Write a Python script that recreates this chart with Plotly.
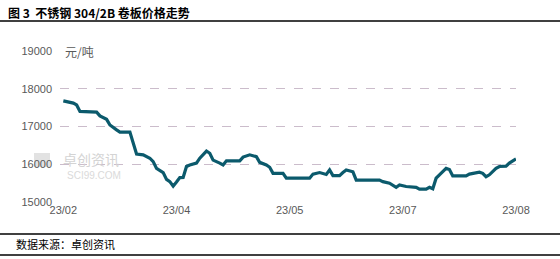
import plotly.graph_objects as go

# day index (position along the category axis) and price (元/吨)
day = [0, 3, 4, 5, 10, 11, 13, 14, 16, 17, 20, 21, 22, 24, 26, 27, 28, 30, 31, 32, 33,
       34, 35, 36, 37, 38, 40, 41, 43, 44, 45, 47, 48, 49, 53, 54, 55, 56, 58, 59, 61,
       62, 63, 66, 67, 74, 75, 77, 79, 80, 81, 83, 84, 85, 87, 88, 95, 96, 98, 100, 101,
       103, 106, 107, 109, 110, 111, 112, 113, 115, 116, 117, 121, 122, 125, 126, 127, 128,
       130, 131, 133, 134, 136]
price = [17680, 17620, 17570, 17400, 17380, 17280, 17190, 17040, 16910, 16850, 16850, 16560,
         16270, 16250, 16160, 16070, 15890, 15780, 15600, 15540, 15420,
         15530, 15645, 15650, 15940, 15980, 16030, 16160, 16350, 16290, 16110, 16030, 15980,
         16090, 16090, 16190, 16220, 16250, 16200, 16050, 15980,
         15920, 15760, 15760, 15630, 15630, 15740, 15780, 15730, 15850, 15700, 15700, 15780,
         15850, 15800, 15580, 15580, 15540, 15500, 15390, 15450,
         15410, 15390, 15340, 15340, 15390, 15350, 15630, 15720, 15890, 15860, 15690, 15690,
         15740, 15790, 15760, 15670, 15720,
         15890, 15940, 15950, 16030, 16140]

tick_pos = [0, 34, 68, 102, 136]
tick_text = ["23/02", "23/04", "23/05", "23/07", "23/08"]
y_ticks = [15000, 16000, 17000, 18000, 19000]

title_text = "图 3  不锈钢 304/2B 卷板价格走势"
unit_text = "元/吨"
source_text = "数据来源：卓创资讯"

W, H = 560, 259
ml, mr, mt, mb = 60, 44, 51, 57
pw, ph = W - ml - mr, H - mt - mb


def px(xp):
    return (xp - ml) / pw


def py(yp):
    return (H - mb - yp) / ph


fig = go.Figure()
fig.add_trace(go.Scatter(x=day, y=price, mode="lines",
                         line=dict(color="#0b5a6c", width=3.2),
                         hoverinfo="skip", showlegend=False))

fig.update_layout(
    width=W, height=H,
    margin=dict(l=ml, r=mr, t=mt, b=mb, pad=0),
    paper_bgcolor="white", plot_bgcolor="white",
    font=dict(family="Liberation Sans, Arial, sans-serif", size=11, color="#595959"),
    xaxis=dict(range=[-1, 136], tickmode="array", tickvals=tick_pos, ticktext=tick_text,
               showgrid=False, zeroline=False, showline=False, ticks="",
               tickfont=dict(size=11, color="#595959")),
    yaxis=dict(range=[15000, 19000], tickmode="array", tickvals=y_ticks,
               ticktext=[str(v) for v in y_ticks],
               showgrid=True, gridcolor="#cbbccb", griddash="dash", gridwidth=1,
               zeroline=False, showline=False, ticks="", ticklabelstandoff=7,
               tickfont=dict(size=11, color="#595959")),
)

shapes = []
for yp in (21, 234, 255):
    shapes.append(dict(type="line", xref="paper", yref="paper",
                       x0=px(0), x1=px(W), y0=py(yp), y1=py(yp),
                       line=dict(color="black", width=1.6)))
# watermark logo block
shapes.append(dict(type="rect", xref="paper", yref="paper",
                   x0=px(34), x1=px(50), y0=py(167), y1=py(153),
                   fillcolor="#e2e2e2", line=dict(width=0), layer="below"))
fig.update_layout(shapes=shapes)

annotations = [
    dict(text="<b>" + title_text + "</b>", x=px(6), y=py(12), xref="paper", yref="paper",
         xanchor="left", yanchor="middle", showarrow=False,
         font=dict(family="Noto Sans CJK SC", size=12, color="black")),
    dict(text=source_text, x=px(14), y=py(244), xref="paper", yref="paper",
         xanchor="left", yanchor="middle", showarrow=False,
         font=dict(family="Noto Sans CJK SC", size=11, color="black")),
    dict(text=unit_text, x=px(63), y=py(51), xref="paper", yref="paper",
         xanchor="left", yanchor="middle", showarrow=False, bgcolor="white",
         font=dict(family="Noto Sans CJK SC", size=12, color="#595959")),
    dict(text="卓创资讯", x=px(91), y=py(159), xref="paper", yref="paper",
         xanchor="center", yanchor="middle", showarrow=False,
         font=dict(family="Noto Sans CJK SC", size=14, color="#d4d4d4")),
    dict(text="SCI99.COM", x=px(94), y=py(175), xref="paper", yref="paper",
         xanchor="center", yanchor="middle", showarrow=False,
         font=dict(family="Liberation Sans", size=10, color="#dadada")),
]
fig.update_layout(annotations=annotations)

fig.write_html("out.html")
